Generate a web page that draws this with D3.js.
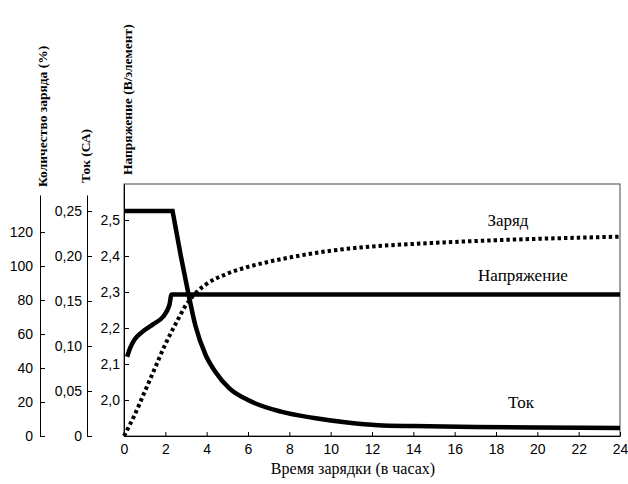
<!DOCTYPE html>
<html>
<head>
<meta charset="utf-8">
<script src="https://cdn.jsdelivr.net/npm/d3@7"></script>
<style>
  body { margin: 0; background: white; }
</style>
</head>
<body>
<div id="chart"></div>
<script>
// charging curves
var chargeHours  = [0, 0.5, 1.0, 1.5, 2.0, 2.5, 3.0, 3.5, 4.0, 5.0, 6.0, 7.0, 8.0, 10, 12, 14, 16, 18, 20, 22, 24];
var chargePct    = [0, 12, 26, 40, 54, 66, 77, 84.5, 89.5, 95.5, 99.5, 102.5, 105, 109, 111.5, 113, 114.2, 115.2, 116, 116.7, 117.3];

var voltHours    = [0.15, 0.3, 0.5, 0.9, 1.4, 1.9, 2.1, 2.2, 2.3, 24];
var voltValues   = [2.12, 2.145, 2.167, 2.19, 2.21, 2.232, 2.25, 2.265, 2.293, 2.293];

var currentHours = [0, 2.35, 2.75, 3.1, 3.45, 3.95, 4.4, 5.1, 6, 7.6, 9.2, 10.8, 12.3, 14, 17, 20, 24];
var currentCA    = [0.25, 0.25, 0.2, 0.16, 0.123, 0.09, 0.072, 0.053, 0.04, 0.027, 0.02, 0.015, 0.012, 0.011, 0.01, 0.0095, 0.009];

var xTicks       = [0, 2, 4, 6, 8, 10, 12, 14, 16, 18, 20, 22, 24];
var chargeTicks  = [0, 20, 40, 60, 80, 100, 120];
var currentTicks = [0, 0.05, 0.10, 0.15, 0.20, 0.25];
var voltTicks    = [2.0, 2.1, 2.2, 2.3, 2.4, 2.5];

var W = 628, H = 484;
var SERIF = "'Liberation Serif', 'DejaVu Serif', 'Times New Roman', serif";
var commaFmt = function(f){ return function(d){ return d === 0 ? "0" : d3.format(f)(d).replace(".", ","); }; };

var svg = d3.select("#chart").append("svg")
  .attr("width", W)
  .attr("height", H);

svg.append("rect").attr("width", W).attr("height", H).attr("fill", "white");

var x = d3.scaleLinear().domain([0, 24]).range([124, 620]);
var yV = d3.scaleLinear().domain([1.9, 2.6]).range([436, 184]);
var yI = d3.scaleLinear().domain([0, 0.2678]).range([436, 195]);
var yQ = d3.scaleLinear().domain([0, 141.8]).range([436, 195]);

// frame of the plot
svg.append("rect")
  .attr("x", 124).attr("y", 184)
  .attr("width", 496).attr("height", 252)
  .attr("fill", "none")
  .style("stroke", "#444")
  .style("stroke-width", 1);

function styleAxis(g)
{
  g.selectAll("text")
    .style("font-family", "'Liberation Sans', Arial, sans-serif")
    .style("font-size", "14px")
    .attr("fill", "black");
  g.selectAll("path, line").attr("stroke", "black");
}

svg.append("g")
  .attr("transform", "translate(0,436)")
  .call(d3.axisBottom(x).tickValues(xTicks).tickSizeInner(-4).tickSizeOuter(0).tickPadding(8))
  .call(styleAxis);

svg.append("g")
  .attr("transform", "translate(40,0)")
  .call(d3.axisLeft(yQ).tickValues(chargeTicks).tickSizeInner(-5).tickSizeOuter(0).tickPadding(7))
  .call(styleAxis);

svg.append("g")
  .attr("transform", "translate(87,0)")
  .call(d3.axisLeft(yI).tickValues(currentTicks).tickSizeInner(-5).tickSizeOuter(0).tickPadding(5).tickFormat(commaFmt(".2f")))
  .call(styleAxis);

svg.append("g")
  .attr("transform", "translate(124,0)")
  .call(d3.axisLeft(yV).tickValues(voltTicks).tickSizeInner(-5).tickSizeOuter(0).tickPadding(4).tickFormat(commaFmt(".1f")))
  .call(styleAxis);

// rotated axis titles
var titles = [
  {text: "Количество заряда (%)", x: 47, y: 187},
  {text: "Ток (СА)", x: 90, y: 183},
  {text: "Напряжение (В/элемент)", x: 132, y: 175}
];
for (var i = 0; i < titles.length; i++)
{
  svg.append("text")
    .attr("transform", "translate(" + titles[i].x + "," + titles[i].y + ") rotate(-90)")
    .attr("text-anchor", "start")
    .style("font-family", SERIF)
    .style("font-weight", "bold")
    .style("font-size", "13.5px")
    .text(titles[i].text);
}

svg.append("text")
  .attr("x", 353).attr("y", 474)
  .attr("text-anchor", "middle")
  .style("font-family", SERIF)
  .style("font-size", "16px")
  .text("Время зарядки (в часах)");

// curves
var lineV = d3.line().x(function(d){ return x(d[0]); }).y(function(d){ return yV(d[1]); }).curve(d3.curveMonotoneX);
var lineI = d3.line().x(function(d){ return x(d[0]); }).y(function(d){ return yI(d[1]); }).curve(d3.curveMonotoneX);
var lineQ = d3.line().x(function(d){ return x(d[0]); }).y(function(d){ return yQ(d[1]); }).curve(d3.curveMonotoneX);

svg.append("path")
  .attr("d", lineQ(d3.zip(chargeHours, chargePct)))
  .attr("fill", "none")
  .style("stroke", "black")
  .style("stroke-width", 4)
  .style("stroke-dasharray", "3.4,3");

// current: flat part straight, then the decay smooth (keeps the corner sharp)
var currentPts = d3.zip(currentHours, currentCA);
svg.append("path")
  .attr("d", lineI.curve(d3.curveLinear)(currentPts.slice(0, 2)) + lineI.curve(d3.curveMonotoneX)(currentPts.slice(1)).replace("M", "L"))
  .attr("fill", "none")
  .style("stroke", "black")
  .style("stroke-linejoin", "miter")
  .style("stroke-width", 4.5);

svg.append("path")
  .attr("d", lineV(d3.zip(voltHours, voltValues)))
  .attr("fill", "none")
  .style("stroke", "black")
  .style("stroke-width", 4.5);

// curve labels
var curveLabels = [
  {text: "Заряд", x: 508, y: 226},
  {text: "Напряжение", x: 523, y: 281},
  {text: "Ток", x: 521, y: 408}
];
for (var j = 0; j < curveLabels.length; j++)
{
  svg.append("text")
    .attr("x", curveLabels[j].x).attr("y", curveLabels[j].y)
    .attr("text-anchor", "middle")
    .style("font-family", SERIF)
    .style("font-size", "17px")
    .text(curveLabels[j].text);
}
</script>
</body>
</html>
